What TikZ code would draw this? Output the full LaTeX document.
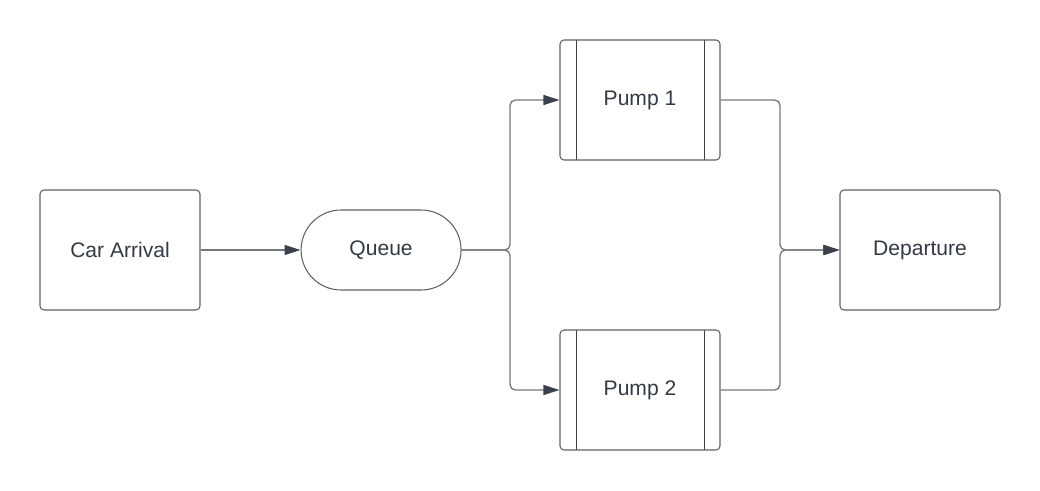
\documentclass[tikz,border=0pt]{standalone}
\usepackage{fontspec}
\setmainfont{Liberation Sans}
\usetikzlibrary{arrows.meta,positioning}
\definecolor{boxgray}{HTML}{5F6368}
\definecolor{linegray}{HTML}{74787E}
\definecolor{tipdark}{HTML}{3A414A}
\definecolor{textdark}{HTML}{333A44}

\begin{document}
\begin{tikzpicture}[x=0.75pt,y=-0.75pt,
		main node/.style={draw=boxgray,line width=0.8pt,rounded corners=3pt,
			minimum width=120pt,minimum height=90pt,inner sep=0pt,
			text=textdark,font=\fontsize{15.8}{18}\selectfont},
		queue node/.style={main node,minimum height=60pt,rounded corners=30pt},
		pump node/.style={main node,path picture={
				\draw[tipdark,line width=0.7pt]
				([xshift=12pt]path picture bounding box.north west) -- ([xshift=12pt]path picture bounding box.south west)
				([xshift=-12pt]path picture bounding box.north east) -- ([xshift=-12pt]path picture bounding box.south east);}},
		link/.style={draw=linegray,line width=1pt,rounded corners=4pt,
			-{Triangle[length=12pt,width=7.5pt,color=tipdark]}}]
		
		\useasboundingbox (0,0) rectangle (1040,490);
		
		\node[main node] (car) at (120,250) {Car Arrival};
		\node[queue node] (queue) [right=75pt of car] {Queue};
		\node[pump node] (pump1) at (640,100) {Pump 1};
		\node[pump node] (pump2) at (640,390) {Pump 2};
		\node[main node] (departure) at (920,250) {Departure};
		
		\coordinate (split) at (510,250);
		\coordinate (join) at (780,250);
		
		\draw[link] (car) -- (queue);
		\draw[link] (queue.east) -- (split) |- (pump1.west);
		\draw[link] (queue.east) -- (split) |- (pump2.west);
		\draw[link] (pump1.east) -| (join) -- (departure.west);
		\draw[link] (pump2.east) -| (join) -- (departure.west);
		
\end{tikzpicture}
\end{document}
